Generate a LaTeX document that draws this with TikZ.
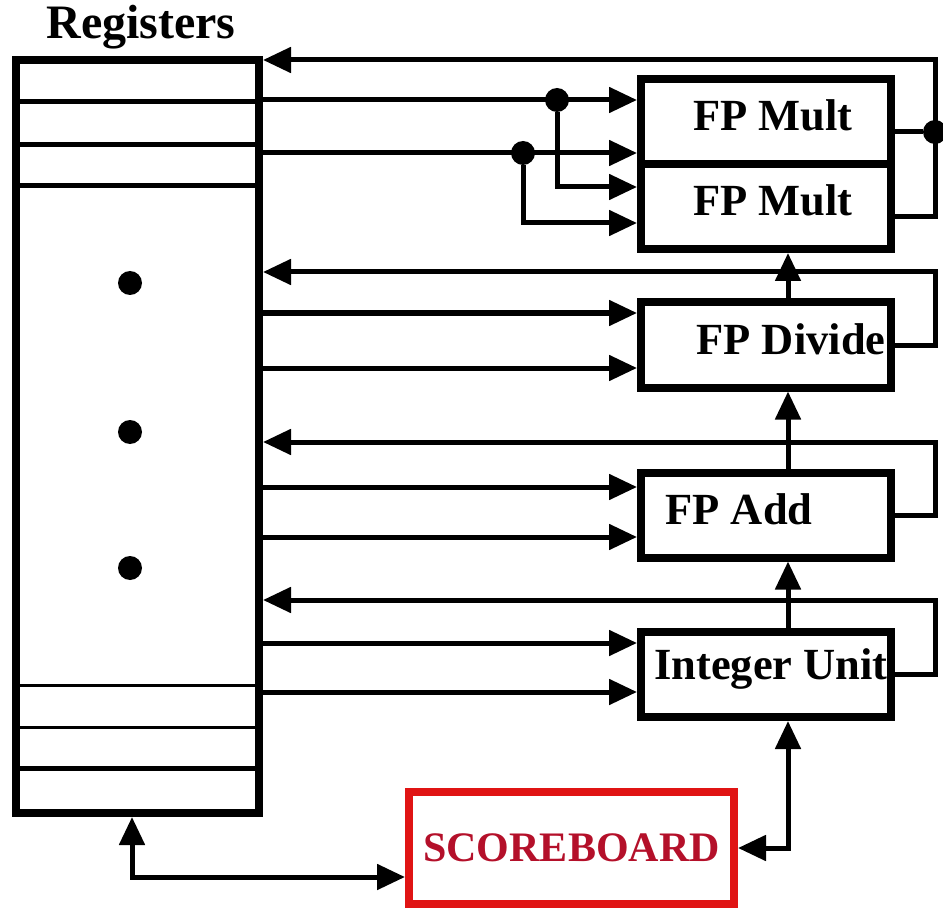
\documentclass[tikz,border=0pt]{standalone}
\usepackage{fontspec}
\setmainfont{Liberation Serif}
\usetikzlibrary{arrows.meta}
\definecolor{sbred}{RGB}{224,20,20}
\definecolor{sbtext}{RGB}{180,16,42}
\begin{document}
\begin{tikzpicture}
[x=1pt,y=-1pt,
 big text/.style={font=\fontsize{44.5}{50}\selectfont\bfseries},
 unit text/.style={big text,yshift=6pt},
 unit/.style={draw,line width=8pt,minimum width=250pt,minimum height=85pt,inner sep=0pt},
 wire/.style={line width=5pt},
 arr/.style={wire,-{Triangle[length=28pt,width=25pt]}},
 both/.style={wire,{Triangle[length=28pt,width=25pt]}-{Triangle[length=28pt,width=25pt]}},
 joint/.style={circle,fill,inner sep=0pt,minimum size=24pt}]
\useasboundingbox (0,0) rectangle (943,912);

% register file
\node[font=\fontsize{48}{54}\selectfont\bfseries] (title) at (141,27) {Registers};
\node[draw,line width=8pt,minimum width=243pt,minimum height=753pt,inner sep=0pt] (reg) at (137.5,436.5) {};
\foreach \y in {102,145,186,768}
  \draw[wire] (reg.west |- 0,\y) -- (reg.east |- 0,\y);
\foreach \y in {685,727}
  \draw[line width=3pt] (reg.west |- 0,\y) -- (reg.east |- 0,\y);
\node[joint] (d1) at (130,283) {};
\node[joint] (d2) at (130,432) {};
\node[joint] (d3) at (130,568) {};

% functional units
\node[unit,label={[unit text,xshift=7pt]center:FP Mult}] (mult1) at (766,121.5) {};
\node[unit,label={[unit text,xshift=7pt]center:FP Mult}] (mult2) at (766,206.5) {};
\node[unit,label={[unit text,xshift=25pt]center:FP Divide}] (div) at (766,345) {};
\node[unit,label={[unit text,xshift=-27pt]center:FP Add}] (add) at (766,515) {};
\node[unit,label={[unit text,xshift=5pt]center:Integer Unit}] (int) at (766,674.5) {};
\node[draw=sbred,line width=8pt,minimum width=325pt,minimum height=112pt,inner sep=0pt,
      text=sbtext,font=\fontsize{42}{48}\selectfont\bfseries] (sb) at (571.5,848) {SCOREBOARD};

% multiplier inputs and results
\node[joint] (ma) at (557,100) {};
\node[joint] (mb) at (523,153) {};
\node[joint] (mout) at (935,132) {};
\coordinate (mtop) at (935,60);
\draw[arr] (reg.east |- ma) -- (mult1.west |- ma);
\draw[arr] (reg.east |- mb) -- (mult1.west |- mb);
\draw[arr] (ma) |- (mult2.west |- 0,187);
\draw[arr] (mb) |- (mult2.west |- 0,223);
\draw[wire] (mult1.east |- mout) -- (mout);
\draw[arr] (mult2.east |- 0,217) -| (mtop) -- (reg.east |- mtop);

% divider
\coordinate (dtop) at (935,272);
\draw[arr] (reg.east |- 0,313) -- (div.west |- 0,313);
\draw[arr] (reg.east |- 0,368) -- (div.west |- 0,368);
\draw[arr] (div.east) -| (dtop) -- (reg.east |- dtop);
\draw[arr] (div.north -| 788,0) -- (mult2.south -| 788,0);

% adder
\coordinate (atop) at (935,442);
\draw[arr] (reg.east |- 0,487) -- (add.west |- 0,487);
\draw[arr] (reg.east |- 0,537) -- (add.west |- 0,537);
\draw[arr] (add.east) -| (atop) -- (reg.east |- atop);
\draw[arr] (add.north -| 788,0) -- (div.south -| 788,0);

% integer unit
\coordinate (itop) at (935,600);
\draw[arr] (reg.east |- 0,643) -- (int.west |- 0,643);
\draw[arr] (reg.east |- 0,692) -- (int.west |- 0,692);
\draw[arr] (int.east) -| (itop) -- (reg.east |- itop);
\draw[arr] (int.north -| 788,0) -- (add.south -| 788,0);

% scoreboard
\draw[both] (sb.east) -| (int.south -| 788,0);
\draw[both] (reg.south -| 132,0) |- (sb.west |- 0,877);
\end{tikzpicture}
\end{document}
